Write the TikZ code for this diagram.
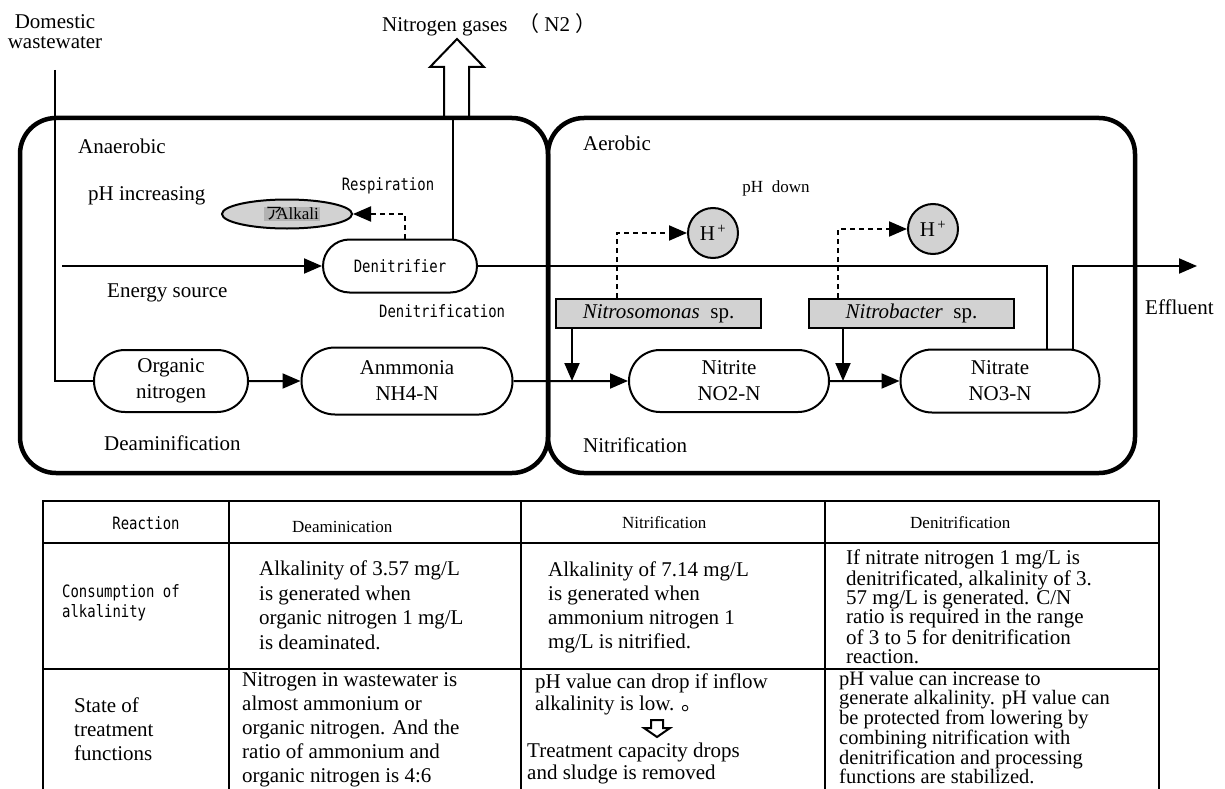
\documentclass[tikz,border=0pt]{standalone}
\usepackage{fontspec}
\setmainfont{Liberation Serif}
\newfontfamily\gothic[FakeStretch=0.82]{DejaVu Sans Mono}
\newfontfamily\cjk{Noto Sans CJK JP}
\usetikzlibrary{shapes.misc,shapes.geometric,arrows.meta,calc}
\newcommand\fs[2]{\fontsize{#1}{#2}\selectfont}
\begin{document}
\begin{tikzpicture}[x=1pt,y=-1pt,
 lbl/.style={inner sep=0pt, font=\fs{21}{24}},
 mono/.style={inner sep=0pt, font=\gothic\fs{17}{20}},
 proc/.style={draw, line width=2pt, rounded rectangle, inner sep=0pt, align=center, font=\fs{21}{26}},
 zone/.style={draw, line width=4.5pt, rounded corners=36pt},
 conn/.style={line width=2pt},
 arr/.style={line width=2pt, -{Triangle[length=18pt,width=15pt]}},
 dots/.style={line width=2pt, dash pattern=on 5pt off 4pt},
 darr/.style={dots, -{Triangle[length=18pt,width=15pt]}},
 shade/.style={fill=gray!35},
 bug/.style={draw, line width=2pt, shade, minimum width=205pt, minimum height=29pt, inner sep=0pt, font=\fs{21}{21}},
 ion/.style={draw, circle, line width=2pt, shade, minimum size=50pt, inner sep=0pt, font=\fs{21}{21}},
 cell/.style={inner sep=0pt, align=left, anchor=west, font=\fs{21}{24}},
 grid/.style={line width=2pt},
]
\useasboundingbox (0,0) rectangle (1225,789);

% hollow arrow for nitrogen gases
\draw[line width=2pt, fill=white] (444,118) -- (444,67) -- (430,67) -- (457,39) -- (484,67) -- (469,67) -- (469,118);

% zones
\draw[zone] (20,118) rectangle (548,473);
\draw[zone] (548,118) rectangle (1135,473);

% process nodes
\node[proc, minimum width=154pt, minimum height=62pt] (org) at (171,381) {Organic\\nitrogen};
\node[proc, minimum width=211pt, minimum height=67pt] (amm) at (407,381) {Anmmonia\\NH4-N};
\node[proc, minimum width=200pt, minimum height=62pt] (nii) at (729,381) {Nitrite\\NO2-N};
\node[proc, minimum width=199pt, minimum height=63pt] (nia) at (1000,381) {Nitrate\\NO3-N};
\node[proc, minimum width=154pt, minimum height=53pt, font=\gothic\fs{17}{20}] (den) at (400,266) {Denitrifier};

\node[draw, ellipse, line width=2pt, shade, minimum width=130pt, minimum height=29pt, inner sep=0pt] (alk) at (287,214) {};
\node[fill=gray!60, inner sep=1pt, font=\fs{17}{17}] (alkt) at (292,214) {{\cjk ア}\hspace{-6pt}Alkali};

\node[bug] (nso) at (658.5,313.5) {\textit{Nitrosomonas}\ \ sp.};
\node[bug] (nsb) at (911.5,313.5) {\textit{Nitrobacter}\ \ sp.};
\node[ion] (hp1) at (713,233) {H\textsuperscript{\,+}};
\node[ion] (hp2) at (933,229) {H\textsuperscript{\,+}};

% coordinates
\coordinate (ww) at (55,70);
\coordinate (es) at (62,266);
\coordinate (j1) at (572,381);
\coordinate (j2) at (843,381);
\coordinate (rc) at (1047,266);
\coordinate (ef0) at (1073,350);
\coordinate (ef1) at (1197,266);
\coordinate (n2) at (453,118);
\coordinate (nx) at (453,0);
\coordinate (rx) at (405,0);
\coordinate (d1x) at (617,0);
\coordinate (d2x) at (838,0);

% connectors
\draw[conn] (ww) |- (org.west);
\draw[arr] (org) -- (amm);
\draw[arr] (amm) -- (nii);
\draw[arr] (nii) -- (nia);
\draw[arr] (nso.south -| j1) -- (j1);
\draw[arr] (nsb.south -| j2) -- (j2);
\draw[darr] (nso.north -| d1x) |- (hp1.west);
\draw[darr] (nsb.north -| d2x) |- (hp2.west);
\draw[darr] (den.north -| rx) |- (alk.east);
\draw[arr] (es) -- (den.west);
\draw[conn] (den.north -| nx) -- (n2);
\draw[conn] (den.east) -- (rc) -- (rc |- nia.north);
\draw[arr] (ef0) |- (ef1);

% labels
\node[lbl, align=center, font=\fs{21}{20}] (dom) at (55,32) {Domestic\\wastewater};
\node[lbl, anchor=west] (ngas) at (382,25) {Nitrogen gases \ {\cjk （}\ N2\ {\cjk ）}};
\node[lbl, anchor=west] (anae) at (78,146) {Anaerobic};
\node[lbl, anchor=west] (phi) at (88,196) {pH increasing};
\node[mono] (resp) at (388,186) {Respiration};
\node[lbl, anchor=west] (ens) at (107,293) {Energy source};
\node[mono, anchor=west] (dnf) at (379,311) {Denitrification};
\node[lbl, anchor=west] (deam) at (104,443) {Deaminification};
\node[lbl, anchor=west] (aer) at (583,143) {Aerobic};
\node[lbl, font=\fs{17}{17}] (phd) at (776,188) {pH\ \ down};
\node[lbl, anchor=west] (nitr) at (583,445) {Nitrification};
\node[lbl, anchor=west] (eff) at (1145,307) {Effluent};

% table
\draw[grid] (43,501) -- (1159,501);
\draw[grid] (43,543) -- (1159,543);
\draw[grid] (43,669) -- (1159,669);
\foreach \x in {43,229,521,825,1159} \draw[grid] (\x,500) -- (\x,795);

\node[mono] (h1) at (146,523) {Reaction};
\node[cell, font=\fs{17}{17}] (h2) at (292,527) {Deaminication};
\node[cell, font=\fs{17}{17}] (h3) at (622,523) {Nitrification};
\node[cell, font=\fs{17}{17}] (h4) at (910,523) {Denitrification};

\node[mono, align=left, anchor=west] (r1) at (62,603) {Consumption of\\alkalinity};
\node[cell, font=\fs{21}{24.5}] (c12) at (259,605) {Alkalinity of 3.57 mg/L\\is generated when\\organic nitrogen 1 mg/L\\is deaminated.};
\node[cell, font=\fs{21}{24}] (c13) at (548,607) {Alkalinity of 7.14 mg/L\\is generated when\\ammonium nitrogen 1\\mg/L is nitrified.};
\node[cell, font=\fs{21}{19.3}] (c14) at (846,607) {If nitrate nitrogen 1 mg/L is\\denitrificated, alkalinity of 3.\\57 mg/L is generated. C/N\\ratio is required in the range\\of 3 to 5 for denitrification\\reaction.};

\node[cell, font=\fs{21}{24}] (r2) at (74,729) {State of\\treatment\\functions};
\node[cell, font=\fs{21}{24}] (c22) at (242,730) {Nitrogen in wastewater is\\almost ammonium or\\organic nitrogen. And the\\ratio of ammonium and\\organic nitrogen is 4:6};
\node[cell, font=\fs{21}{22}] (c23a) at (535,694) {pH value can drop if inflow\\alkalinity is low. {\cjk 。}};
\draw[line width=2pt, fill=white] (651,720) -- (663,720) -- (663,728) -- (670,728) -- (657,737) -- (644,728) -- (651,728) -- cycle;
\node[cell, font=\fs{21}{22}] (c23b) at (527,763) {Treatment capacity drops\\and sludge is removed};
\node[cell, font=\fs{20.5}{18.6}] (c24) at (839,728) {pH value can increase to\\generate alkalinity. pH value can\\be protected from lowering by\\combining nitrification with\\denitrification and processing\\functions are stabilized.};
\end{tikzpicture}
\end{document}
